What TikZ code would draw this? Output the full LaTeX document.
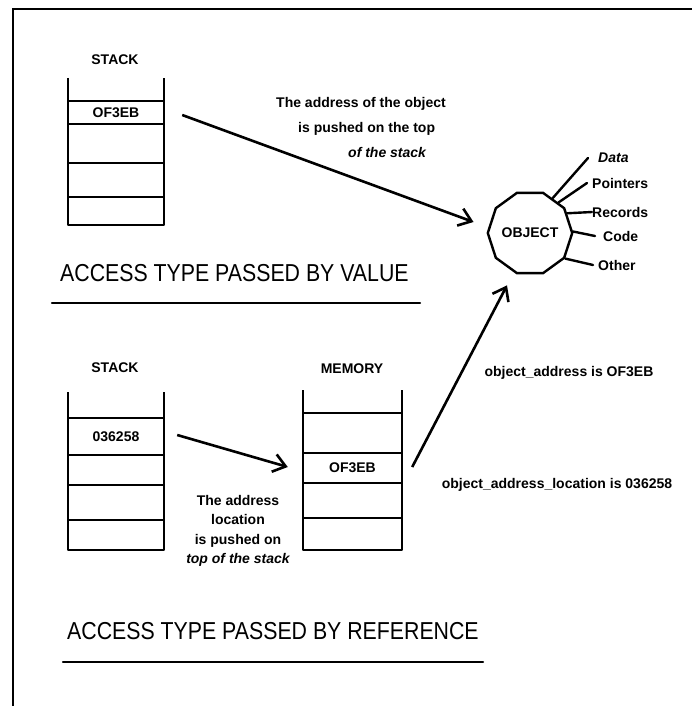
\documentclass[tikz,border=0pt]{standalone}
\usepackage{fontspec}
\setmainfont{Liberation Sans}
\usetikzlibrary{arrows.meta,shapes.geometric}
\tikzset{
  frame/.style={line width=2.8pt},
  stk/.style={line width=2.3pt, line join=round},
  cellbox/.style={minimum width=96pt, inner sep=0pt, font=\fontsize{14}{16}\selectfont\bfseries},
  lbl/.style={inner sep=0pt, font=\fontsize{14}{16}\selectfont\bfseries},
  note/.style={inner sep=0pt, font=\fontsize{14}{17}\selectfont\bfseries},
  ttl/.style={inner sep=0pt, font=\fontsize{21.3}{24}\selectfont},
  arr/.style={line width=2.6pt, -{Straight Barb[length=12pt,width=18pt]}},
  ln/.style={line width=2.4pt, line cap=round},
}
\begin{document}
\begin{tikzpicture}[x=1pt,y=-1pt]
\useasboundingbox (0,0) rectangle (692,706);
% frame
\draw[frame] (13,706) -- (13,9) -- (692,9);

% ---------- top: by value ----------
\node[lbl] (stk1) at (115,60) {STACK};
\draw[stk] (68,78) -- (68,225) -- (164,225) -- (164,78);
\foreach \yy in {101,124,163,197} \draw[stk] (68,\yy) -- (164,\yy);
\node[cellbox] (c1) at (116,112.5) {OF3EB};

\node[note, anchor=north west, align=left, font=\fontsize{14}{25}\selectfont\bfseries]
  (n1) at (276,97)
  {The address of the object\\
   \hspace*{22pt}is pushed on the top\\
   \hspace*{72pt}\itshape of the stack};

\node[draw, regular polygon, regular polygon sides=10, minimum size=80pt,
      line width=2.4pt, inner sep=0pt, font=\fontsize{14}{16}\selectfont\bfseries]
      (obj) at (530,233) {OBJECT};

\node[lbl, anchor=west] (data) at (598,158) {\itshape Data};
\node[lbl, anchor=west] (ptr) at (592,183) {Pointers};
\node[lbl, anchor=west] (rec) at (592,212) {Records};
\node[lbl, anchor=west] (code) at (603,236) {Code};
\node[lbl, anchor=west] (oth) at (598,265) {Other};

\draw[ln] (obj.57) -- ([xshift=-10pt]data.west);
\draw[ln] (obj.47) -- ([xshift=-5pt]ptr.west);
\draw[ln] (obj.28) -- (rec.west);
\draw[ln] (obj.2) -- ([xshift=-8pt]code.west);
\draw[ln] (obj.-36) -- ([xshift=-5pt]oth.west);

\draw[arr] ([xshift=18pt,yshift=-2.5pt]c1.east) -- ([xshift=-13pt,yshift=11pt]obj.west);

\node[ttl, anchor=west] (t1) at (60,273) {\scalebox{1}[1.15]{ACCESS TYPE PASSED BY VALUE}};
\draw[ln] (52,303) -- (420,303);

% ---------- bottom: by reference ----------
\node[lbl] (stk2) at (115,368) {STACK};
\draw[stk] (68,392) -- (68,550) -- (164,550) -- (164,392);
\foreach \yy in {418,455,485,520} \draw[stk] (68,\yy) -- (164,\yy);
\node[cellbox] (c2) at (116,436.5) {036258};

\node[lbl] (mem) at (352,369) {MEMORY};
\draw[stk] (303,390) -- (303,550) -- (402,550) -- (402,390);
\foreach \yy in {413,453,483,518} \draw[stk] (303,\yy) -- (402,\yy);
\node[cellbox, minimum width=99pt] (m2) at (352.5,468) {OF3EB};

\draw[arr] ([xshift=13pt,yshift=1.5pt]c2.east) -- ([xshift=-15pt,yshift=1pt]m2.west);

\node[note, align=center, font=\fontsize{14}{19.5}\selectfont\bfseries] (n2) at (238,531)
  {The address\\location\\is pushed on\\\itshape top of the stack};

\draw[arr] ([xshift=10pt,yshift=1pt]m2.east) -- ([xshift=-23pt,yshift=-11pt]obj.south);

\node[note] (oa) at (569,373) {object\_address is OF3EB};
\node[note] (oal) at (557,485) {object\_address\_location is 036258};

\node[ttl, anchor=west] (t2) at (67,631) {\scalebox{1}[1.15]{ACCESS TYPE PASSED BY REFERENCE}};
\draw[ln] (63,662) -- (483,662);
\end{tikzpicture}
\end{document}
